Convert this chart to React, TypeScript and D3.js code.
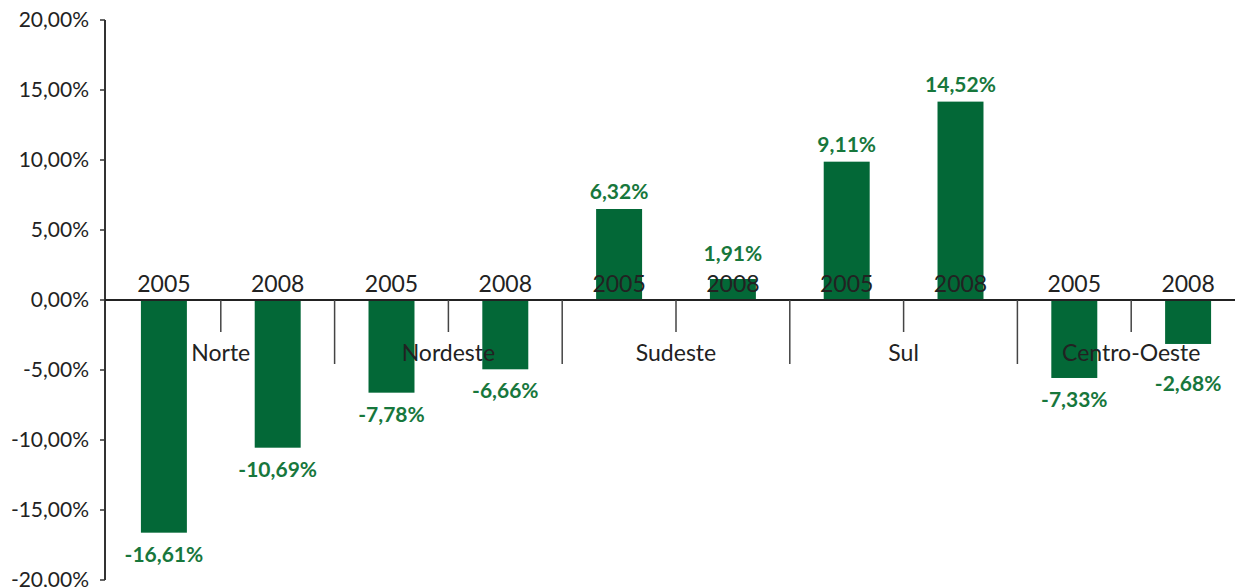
import React from "react";
import * as d3 from "d3";

const regions = ["Norte", "Nordeste", "Sudeste", "Sul", "Centro-Oeste"];
const years = ["2005", "2008"];
// printed data labels (percent)
const labelValues = [-16.61, -10.69, -7.78, -6.66, 6.32, 1.91, 9.11, 14.52, -7.33, -2.68];
// bar heights as drawn in the picture (percent)
const barValues = [-16.62, -10.55, -6.62, -4.95, 6.5, 1.5, 9.88, 14.17, -5.57, -3.14];
const yTicks = [20, 15, 10, 5, 0, -5, -10, -15, -20];

const W = 1235;
const H = 587;
const FONT = "Lato, 'Open Sans', sans-serif";
const BAR = "#036837";
const LABEL = "#17773c";

const fmt = (v: number) => v.toFixed(2).replace(".", ",") + "%";

export default function App() {
  const keys = regions.flatMap((r) => years.map((y) => r + "|" + y));
  const x = d3.scaleBand<string>().domain(keys).range([107, 1245]).paddingInner(0.596).paddingOuter(0.298);
  const y = d3.scaleLinear().domain([-20, 20]).range([580, 20]);
  const step = x.step();
  const x0 = x(keys[0])! - x.paddingOuter() * step;
  const y0 = y(0);
  const yearBase = y0 - 8;
  const regionBase = y0 + 61;

  // region label extents (approx) for collision avoidance
  const regionBoxes = regions.map((r, g) => {
    const cx = x0 + step * (2 * g + 1);
    const w = r.length * 11.5;
    return { x1: cx - w / 2, x2: cx + w / 2 };
  });

  return (
    <div style={{ position: "absolute", left: 0, top: 0 }}>
      <svg width={W} height={H} style={{ display: "block", background: "#fff" }}>
        {/* bars */}
        {keys.map((k, i) => {
          const v = barValues[i];
          return (
            <rect
              key={k}
              x={x(k)}
              width={x.bandwidth()}
              y={Math.min(y(v), y0)}
              height={Math.abs(y(v) - y0)}
              fill={BAR}
            />
          );
        })}
        {/* y axis */}
        <line x1={105} x2={105} y1={y(20)} y2={y(-20)} stroke="#333" strokeWidth={2} />
        {yTicks.map((t) => (
          <g key={t}>
            <line x1={100} x2={105} y1={y(t)} y2={y(t)} stroke="#333" strokeWidth={1.5} />
            <text x={89} y={y(t)} dy="0.35em" textAnchor="end" fontFamily={FONT} fontSize={21} fill="#222">
              {fmt(t)}
            </text>
          </g>
        ))}
        {/* zero line */}
        <line x1={105} x2={W} y1={y0} y2={y0} stroke="#222" strokeWidth={2} />
        {/* separators */}
        {regions.map((r, g) => (
          <g key={r}>
            <line x1={x0 + step * (2 * g + 1)} x2={x0 + step * (2 * g + 1)} y1={y0} y2={y0 + 32} stroke="#444" strokeWidth={1.5} />
            {g > 0 && (
              <line x1={x0 + step * 2 * g} x2={x0 + step * 2 * g} y1={y0} y2={y0 + 64} stroke="#444" strokeWidth={1.5} />
            )}
          </g>
        ))}
        {/* year labels */}
        {keys.map((k) => (
          <text
            key={"yr" + k}
            x={x(k)! + x.bandwidth() / 2}
            y={yearBase}
            textAnchor="middle"
            fontFamily={FONT}
            fontSize={23}
            fill="#222"
          >
            {k.split("|")[1]}
          </text>
        ))}
        {/* region labels */}
        {regions.map((r, g) => (
          <text
            key={"rg" + r}
            x={x0 + step * (2 * g + 1)}
            y={regionBase}
            textAnchor="middle"
            fontFamily={FONT}
            fontSize={23}
            fill="#222"
          >
            {r}
          </text>
        ))}
        {/* data labels */}
        {keys.map((k, i) => {
          const v = barValues[i];
          const cx = x(k)! + x.bandwidth() / 2;
          let ty: number;
          if (v >= 0) {
            ty = Math.min(y(v) - 10, yearBase - 31);
          } else {
            ty = y(v) + 29;
            const g = Math.floor(i / 2);
            const box = regionBoxes[g];
            const hw = 38;
            const overlapX = cx + hw > box.x1 && cx - hw < box.x2;
            if (overlapX && ty - 17 < regionBase + 4 && ty > regionBase - 20) {
              ty = regionBase + 30;
            }
          }
          return (
            <text
              key={"lb" + k}
              x={cx}
              y={ty}
              textAnchor="middle"
              fontFamily={FONT}
              fontWeight="bold"
              fontSize={21}
              fill={LABEL}
            >
              {fmt(labelValues[i])}
            </text>
          );
        })}
      </svg>
    </div>
  );
}
